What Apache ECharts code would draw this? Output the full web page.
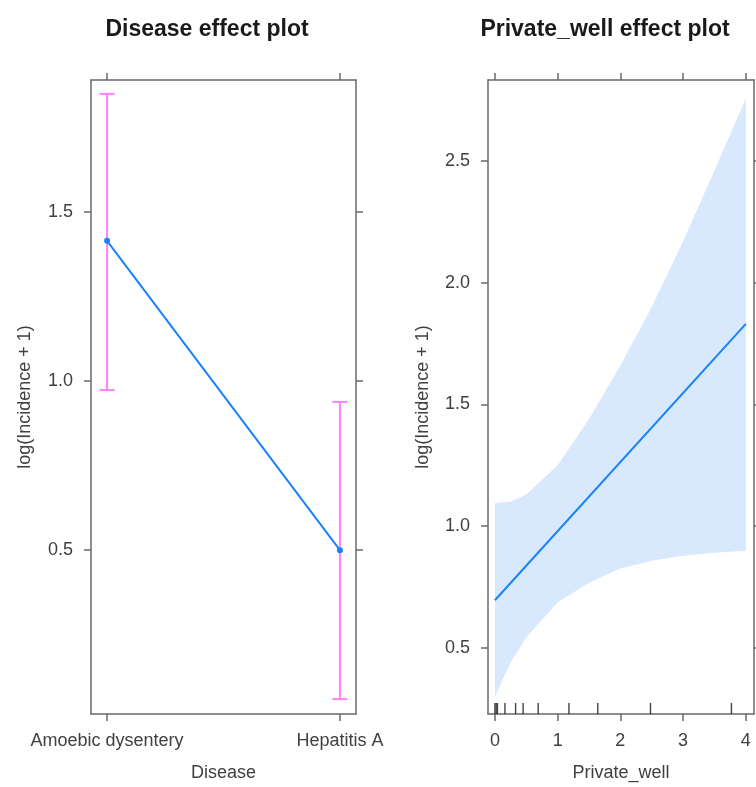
<!DOCTYPE html>
<html>
<head>
<meta charset="utf-8">
<script src="https://cdn.jsdelivr.net/npm/echarts@6/dist/echarts.min.js"></script>
<style>
  html, body { margin: 0; padding: 0; background: #fff; }
  #chart { width: 756px; height: 787px; }
</style>
</head>
<body>
<div id="chart"></div>
<script>
// Disease effect panel
var diseases = ['Amoebic dysentery', 'Hepatitis A']
var diseaseFit = [1.414, 0.5]
var diseaseLower = [0.973, 0.06]
var diseaseUpper = [1.848, 0.938]
var leftTicks = [0.5, 1.0, 1.5]

// Private_well effect panel
var wellX = [0, 0.25, 0.5, 1, 1.5, 2, 2.5, 3, 3.5, 4]
var wellUpper = [1.095, 1.10, 1.13, 1.25, 1.44, 1.66, 1.90, 2.17, 2.46, 2.757]
var wellLower = [0.3, 0.44, 0.544, 0.687, 0.768, 0.826, 0.858, 0.879, 0.891, 0.899]
var wellFitX = [0, 4]
var wellFit = [0.696, 1.831]
var wellRug = [0, 0.02, 0.04, 0.16, 0.33, 0.45, 0.69, 1.18, 1.64, 2.48, 3.77]
var rightXTicks = [0, 1, 2, 3, 4]
var rightYTicks = [0.5, 1.0, 1.5, 2.0, 2.5]

var font = 'Liberation Sans, Arial, sans-serif'
var frame = '#6a6a6a'
var blue = '#1a82f7'
var pink = '#ff80ff'

var chart = echarts.init(document.getElementById('chart'))

function mainX (grid, min, max, ticks, fmt, name) {
  return {
    type: 'value', gridIndex: grid, min: min, max: max, position: 'bottom',
    name: name, nameLocation: 'middle', nameGap: 50,
    nameTextStyle: { fontFamily: font, fontSize: 18, color: '#404040' },
    axisLine: { show: true, onZero: false, lineStyle: { color: frame, width: 1.5 } },
    axisTick: { show: true, customValues: ticks, length: 7, lineStyle: { color: frame, width: 1.5 } },
    axisLabel: { customValues: ticks, margin: 18, formatter: fmt, fontFamily: font, fontSize: 18, color: '#404040' },
    splitLine: { show: false }
  }
}
function sideX (grid, min, max, ticks) {
  return {
    type: 'value', gridIndex: grid, min: min, max: max, position: 'top',
    axisLine: { show: true, onZero: false, lineStyle: { color: frame, width: 1.5 } },
    axisTick: { show: true, customValues: ticks, length: 7, lineStyle: { color: frame, width: 1.5 } },
    axisLabel: { show: false },
    splitLine: { show: false }
  }
}
function mainY (grid, min, max, ticks, gap) {
  return {
    type: 'value', gridIndex: grid, min: min, max: max, position: 'left',
    name: 'log(Incidence + 1)', nameLocation: 'middle', nameGap: gap,
    nameTextStyle: { fontFamily: font, fontSize: 18, color: '#404040' },
    axisLine: { show: true, onZero: false, lineStyle: { color: frame, width: 1.5 } },
    axisTick: { show: true, customValues: ticks, length: 7, lineStyle: { color: frame, width: 1.5 } },
    axisLabel: {
      customValues: ticks, margin: 18, fontFamily: font, fontSize: 18, color: '#404040',
      formatter: function (v) { return v.toFixed(1) }
    },
    splitLine: { show: false }
  }
}
function sideY (grid, min, max, ticks) {
  return {
    type: 'value', gridIndex: grid, min: min, max: max, position: 'right',
    axisLine: { show: true, onZero: false, lineStyle: { color: frame, width: 1.5 } },
    axisTick: { show: true, customValues: ticks, length: 7, lineStyle: { color: frame, width: 1.5 } },
    axisLabel: { show: false },
    splitLine: { show: false }
  }
}

var diseaseLine = diseases.map(function (d, i) { return [i + 1, diseaseFit[i]] })
var diseaseBars = diseases.map(function (d, i) { return [i + 1, diseaseLower[i], diseaseUpper[i]] })
var bandData = wellX.map(function (x, i) { return [x, wellLower[i], wellUpper[i]] })

var option = {
  animation: false,
  title: [
    { text: 'Disease effect plot', left: 202, top: 13, textAlign: 'center',
      textStyle: { fontFamily: font, fontSize: 23, fontWeight: 'bold', color: '#1a1a1a' } },
    { text: 'Private_well effect plot', left: 600, top: 13, textAlign: 'center',
      textStyle: { fontFamily: font, fontSize: 23, fontWeight: 'bold', color: '#1a1a1a' } }
  ],
  grid: [
    { left: 91, top: 80, width: 265, height: 637 },
    { left: 488, top: 80, width: 266, height: 637 }
  ],
  xAxis: [
    mainX(0, 0.931, 2.069, [1, 2], function (v) { return diseases[Math.round(v) - 1] }, 'Disease'),
    sideX(0, 0.931, 2.069, [1, 2]),
    mainX(1, -0.11, 4.13, rightXTicks, function (v) { return String(v) }, 'Private_well'),
    sideX(1, -0.11, 4.13, rightXTicks)
  ],
  yAxis: [
    mainY(0, 0.016, 1.889, leftTicks, 57),
    sideY(0, 0.016, 1.889, leftTicks),
    mainY(1, 0.229, 2.832, rightYTicks, 56),
    sideY(1, 0.229, 2.832, rightYTicks)
  ],
  series: [
    {
      type: 'custom', xAxisIndex: 0, yAxisIndex: 0, data: diseaseBars, z: 2,
      renderItem: function (params, api) {
        var lo = api.coord([api.value(0), api.value(1)])
        var hi = api.coord([api.value(0), api.value(2)])
        var style = { stroke: pink, lineWidth: 2 }
        return {
          type: 'group',
          children: [
            { type: 'line', shape: { x1: lo[0], y1: lo[1], x2: hi[0], y2: hi[1] }, style: style },
            { type: 'line', shape: { x1: lo[0] - 7.5, y1: lo[1], x2: lo[0] + 7.5, y2: lo[1] }, style: style },
            { type: 'line', shape: { x1: hi[0] - 7.5, y1: hi[1], x2: hi[0] + 7.5, y2: hi[1] }, style: style }
          ]
        }
      }
    },
    {
      type: 'line', xAxisIndex: 0, yAxisIndex: 0, data: diseaseLine, z: 3,
      symbol: 'circle', symbolSize: 6, showSymbol: true,
      lineStyle: { color: blue, width: 2 }, itemStyle: { color: blue }
    },
    {
      type: 'custom', xAxisIndex: 2, yAxisIndex: 2, data: bandData, z: 1,
      renderItem: function (params, api) {
        if (params.dataIndex !== 0) return null
        var pts = []
        bandData.forEach(function (r) { pts.push(api.coord([r[0], r[2]])) })
        bandData.slice().reverse().forEach(function (r) { pts.push(api.coord([r[0], r[1]])) })
        return { type: 'polygon', shape: { points: pts }, style: { fill: '#d8e9fd' } }
      }
    },
    {
      type: 'line', xAxisIndex: 2, yAxisIndex: 2, z: 3,
      data: wellFitX.map(function (x, i) { return [x, wellFit[i]] }),
      showSymbol: false, lineStyle: { color: blue, width: 2 }
    },
    {
      type: 'custom', xAxisIndex: 2, yAxisIndex: 2, data: wellRug, z: 4,
      renderItem: function (params, api) {
        var p = api.coord([api.value(0), 1])
        var bottom = params.coordSys.y + params.coordSys.height
        return {
          type: 'line',
          shape: { x1: p[0], y1: bottom, x2: p[0], y2: bottom - 11 },
          style: { stroke: '#222', lineWidth: 1.4, opacity: 0.85 }
        }
      }
    }
  ]
}
chart.setOption(option)
</script>
</body>
</html>
